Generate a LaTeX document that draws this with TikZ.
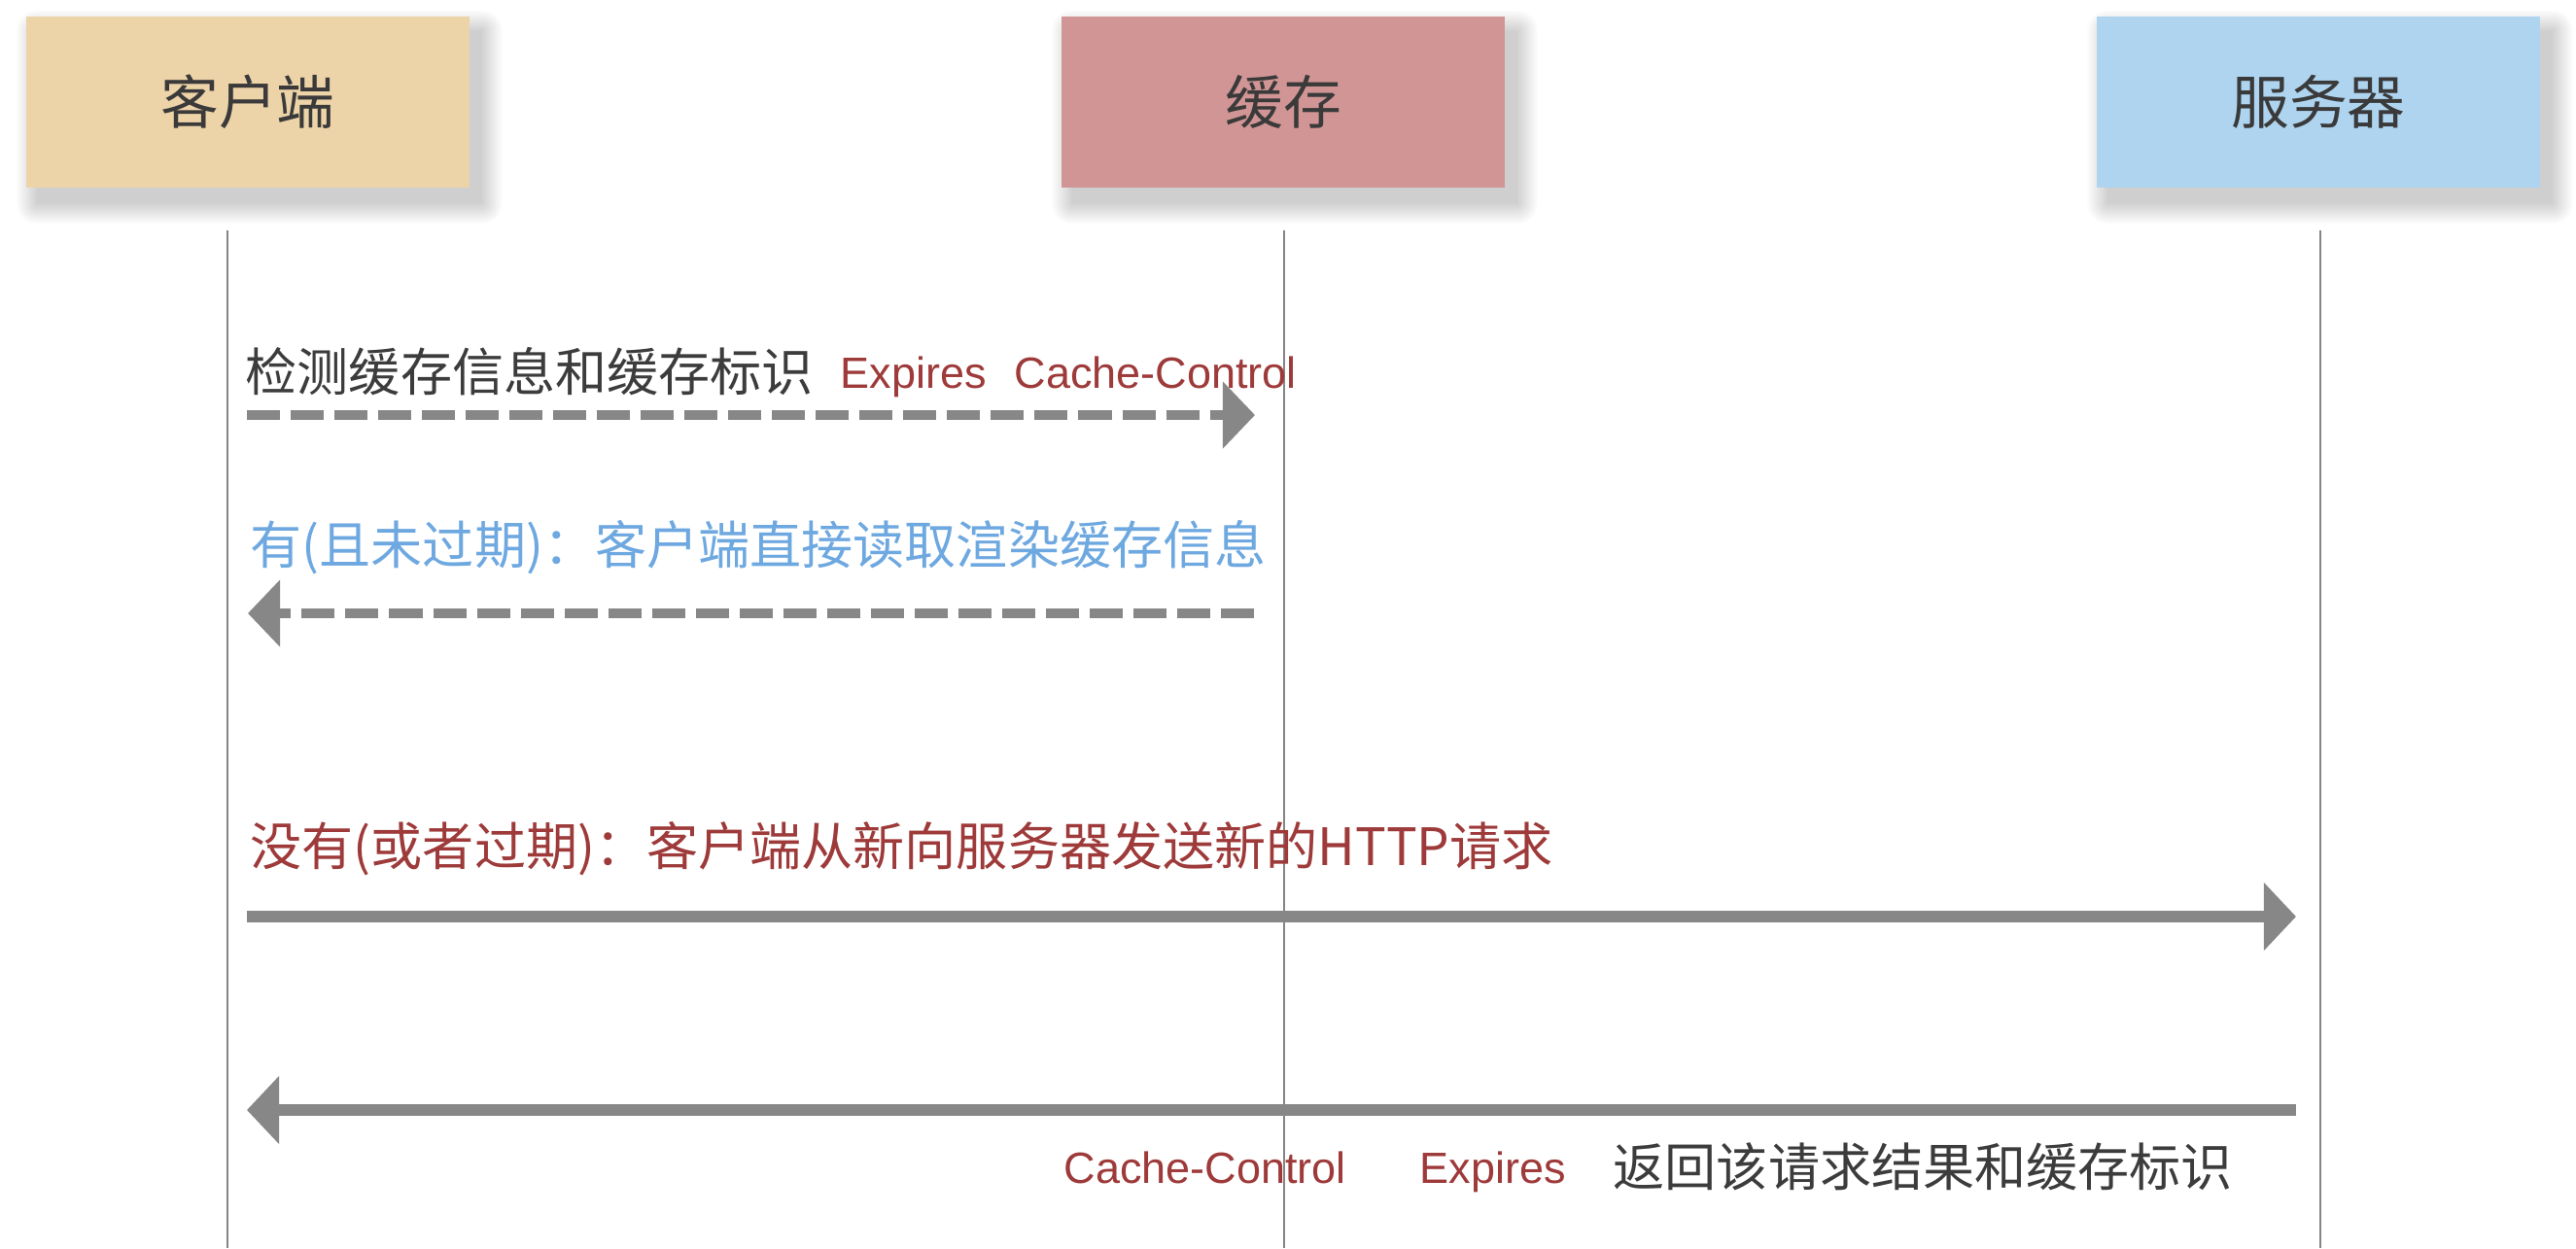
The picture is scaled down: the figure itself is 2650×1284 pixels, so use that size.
\documentclass[tikz,border=0pt]{standalone}
\usepackage{fontspec}
\setmainfont{Liberation Sans}
\newfontfamily\cjk{Noto Sans CJK SC}
\usetikzlibrary{arrows.meta,backgrounds}
\definecolor{clientfill}{HTML}{EDD3A8}
\definecolor{cachefill}{HTML}{D29595}
\definecolor{serverfill}{HTML}{AED4F0}
\definecolor{boxtext}{HTML}{3A3A3A}
\definecolor{redtext}{HTML}{9E3A3A}
\definecolor{bluetext}{HTML}{6EA8E0}
\definecolor{arrowgray}{HTML}{878787}
\definecolor{linegray}{HTML}{858585}
\definecolor{labeltext}{HTML}{3C3C3C}
\tikzset{
  actor/.style={minimum width=4.56cm, minimum height=1.76cm, inner sep=0pt,
    font=\cjk\fontsize{17}{20}\selectfont, text=boxtext},
  shadowlayer/.style={fill=black, opacity=0.013},
  lifeline/.style={draw=linegray, line width=0.5pt},
  msgdash/.style={draw=arrowgray, line width=2.8pt, dash pattern=on 0.34cm off 0.11cm,
    -{Triangle[length=0.33cm, width=0.67cm]}},
  msgsolid/.style={draw=arrowgray, line width=3.3pt,
    -{Triangle[length=0.33cm, width=0.68cm]}},
  cjklabel/.style={anchor=base west, inner sep=0pt, font=\cjk\fontsize{15.1}{18}\selectfont},
  latlabel/.style={anchor=base west, inner sep=0pt, font=\fontsize{12.8}{15}\selectfont, text=redtext}
}
\begin{document}
\begin{tikzpicture}[x=0.01cm, y=-0.01cm]
\useasboundingbox (0,0) rectangle (2650,1284);

% actors
\node[actor, fill=clientfill] (client) at (255,105) {客户端};
\node[actor, fill=cachefill]  (cache)  at (1320,105) {缓存};
\node[actor, fill=serverfill] (server) at (2385,105) {服务器};

% white page and soft shadows behind the actors
\begin{scope}[on background layer]
\fill[white] (0,0) rectangle (2650,1284);
\foreach \n in {client,cache,server}{
  \foreach \i in {0,...,15}{
    \pgfmathsetmacro\e{(15-\i)*0.4}
    \fill[shadowlayer, rounded corners=\e pt]
      ([xshift=3.4pt-\e pt, yshift=-4.4pt+\e pt]\n.north west) rectangle
      ([xshift=3.4pt+\e pt, yshift=-4.4pt-\e pt]\n.south east);
  }
}
\end{scope}

% lifelines
\coordinate (clientTop) at (234,237);
\coordinate (clientBot) at (234,1284);
\coordinate (cacheTop) at (1321,237);
\coordinate (cacheBot) at (1321,1284);
\coordinate (serverTop) at (2387,237);
\coordinate (serverBot) at (2387,1284);
\draw[lifeline] (clientTop) -- (clientBot);
\draw[lifeline] (cacheTop) -- (cacheBot);
\draw[lifeline] (serverTop) -- (serverBot);

% message end points
\coordinate (m1s) at (254,427);
\coordinate (m1e) at (1291,427);
\coordinate (m2s) at (1290,631);
\coordinate (m2e) at (255,631);
\coordinate (m3s) at (254,943);
\coordinate (m3e) at (2362,943);
\coordinate (m4s) at (2362,1142);
\coordinate (m4e) at (254,1142);

\draw[msgdash] (m1s) -- (m1e);
\draw[msgdash] (m2s) -- (m2e);
\draw[msgsolid] (m3s) -- (m3e);
\draw[msgsolid] (m4s) -- (m4e);

% labels
\node[cjklabel, text=labeltext] (l1) at (252,402) {检测缓存信息和缓存标识};
\node[latlabel] (l1a) at (864,399) {Expires};
\node[latlabel] (l1b) at (1043,399) {Cache-Control};

\node[cjklabel, text=bluetext] (l2) at (257,580) {有(且未过期)：客户端直接读取渲染缓存信息};

\node[cjklabel, text=redtext] (l3) at (257,890) {没有(或者过期)：客户端从新向服务器发送新的HTTP请求};

\node[latlabel] (l4a) at (1094,1217) {Cache-Control};
\node[latlabel] (l4b) at (1460,1217) {Expires};
\node[cjklabel, text=labeltext] (l4c) at (1659,1220) {返回该请求结果和缓存标识};
\end{tikzpicture}
\end{document}
